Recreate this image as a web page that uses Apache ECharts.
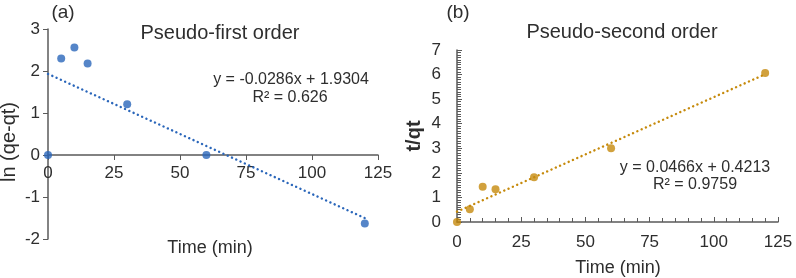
<!DOCTYPE html>
<html>
<head>
<meta charset="utf-8">
<script src="https://cdn.jsdelivr.net/npm/echarts@6/dist/echarts.min.js"></script>
<style>
  html, body { margin: 0; padding: 0; background: #fff; }
  #chart { width: 796px; height: 278px; }
</style>
</head>
<body>
<div id="chart"></div>
<script>
// (a) pseudo-first order: time vs ln(qe-qt)
const timeA = [0, 5, 10, 15, 30, 60, 120];
const lnA = [0, 2.3, 2.56, 2.18, 1.21, 0, -1.63];
const trendA = [[0, 1.9304], [120, -1.5016]];

// (b) pseudo-second order: time vs t/qt
const timeB = [0, 5, 10, 15, 30, 60, 120];
const tqB = [0, 0.52, 1.43, 1.33, 1.82, 3.0, 6.06];
const trendB = [[0, 0.4213], [120, 6.0133]];

const xTicks = [0, 125, 25];
const yTicksA = [-2, 3, 1];
const yTicksB = [0, 7, 1];

const blue = '#2A66BA';
const gold = '#C68A0C';
const axisCol = '#5a5a5a';
const txt = '#2e2e2e';
const font = 'Liberation Sans, Arial, sans-serif';

function pairs(xs, ys) {
  return xs.map((x, i) => [x, ys[i]]);
}

function label(text, x, y, size, opts) {
  opts = opts || {};
  return {
    type: 'text', x: x, y: y, rotation: opts.rot || 0,
    style: {
      text: text, fill: txt, fontFamily: font, fontSize: size,
      fontWeight: opts.bold ? 'bold' : 'normal',
      textAlign: 'center', textVerticalAlign: 'middle'
    }
  };
}

const chart = echarts.init(document.getElementById('chart'));
const axisLabel = { color: txt, fontFamily: font, fontSize: 17 };
// round dots: near-zero dash plus round caps
const dotted = { width: 2.4, type: [0.1, 4.6], cap: 'round' };

chart.setOption({
  animation: false,
  grid: [
    { left: 48, top: 29, width: 330, height: 210 },
    { left: 457, top: 50, width: 321, height: 172 },
    // upper part of (a), so its time axis sits on y = 0
    { left: 48, top: 29, width: 330, height: 126 }
  ],
  xAxis: [
    { gridIndex: 0, type: 'value', min: xTicks[0], max: xTicks[1], show: false },
    {
      gridIndex: 1, type: 'value', min: xTicks[0], max: xTicks[1], interval: xTicks[2],
      axisLine: { onZero: false, lineStyle: { color: axisCol, width: 1.5 } },
      axisTick: { show: true, inside: true, length: 5, lineStyle: { color: axisCol } },
      minorTick: { show: true, splitNumber: 5, length: 4, lineStyle: { color: axisCol } },
      splitLine: { show: false },
      axisLabel: Object.assign({ margin: 12 }, axisLabel)
    },
    {
      gridIndex: 2, type: 'value', min: xTicks[0], max: xTicks[1], interval: xTicks[2],
      axisLine: { onZero: false, lineStyle: { color: axisCol, width: 1.5 } },
      axisTick: { show: true, length: 5, lineStyle: { color: axisCol } },
      splitLine: { show: false },
      axisLabel: Object.assign({ margin: 10 }, axisLabel)
    }
  ],
  yAxis: [
    {
      gridIndex: 0, type: 'value', min: yTicksA[0], max: yTicksA[1], interval: yTicksA[2],
      axisLine: { show: true, onZero: false, lineStyle: { color: axisCol, width: 1.5 } },
      axisTick: { show: true, length: 5, lineStyle: { color: axisCol } },
      splitLine: { show: false },
      axisLabel: Object.assign({ margin: 8 }, axisLabel)
    },
    {
      gridIndex: 1, type: 'value', min: yTicksB[0], max: yTicksB[1], interval: yTicksB[2],
      axisLine: { show: true, onZero: false, lineStyle: { color: axisCol, width: 1.5 } },
      axisTick: { show: true, inside: true, length: 5, lineStyle: { color: axisCol } },
      minorTick: { show: true, splitNumber: 10, length: 4, lineStyle: { color: axisCol } },
      splitLine: { show: false },
      axisLabel: Object.assign({ margin: 16 }, axisLabel)
    },
    { gridIndex: 2, type: 'value', min: 0, max: 3, show: false }
  ],
  series: [
    {
      type: 'line', xAxisIndex: 0, yAxisIndex: 0, data: trendA,
      showSymbol: false, silent: true,
      lineStyle: Object.assign({ color: blue }, dotted)
    },
    {
      type: 'scatter', xAxisIndex: 0, yAxisIndex: 0, data: pairs(timeA, lnA),
      symbolSize: 8, clip: false, z: 5, itemStyle: { color: blue }
    },
    {
      type: 'line', xAxisIndex: 1, yAxisIndex: 1, data: trendB,
      showSymbol: false, silent: true,
      lineStyle: Object.assign({ color: gold }, dotted)
    },
    {
      type: 'scatter', xAxisIndex: 1, yAxisIndex: 1, data: pairs(timeB, tqB),
      symbolSize: 8, clip: false, z: 5, itemStyle: { color: gold }
    }
  ],
  graphic: [
    label('(a)', 63, 13, 19),
    label('Pseudo-first order', 220, 33, 20),
    label('y = -0.0286x + 1.9304', 291, 80, 16),
    label('R² = 0.626', 290, 98, 16),
    label('Time (min)', 210, 248, 18),
    label('ln (qe-qt)', 9, 142, 20, { rot: Math.PI / 2 }),
    label('(b)', 458, 13, 19),
    label('Pseudo-second order', 622, 32, 20),
    label('y = 0.0466x + 0.4213', 695, 168, 16),
    label('R² = 0.9759', 695, 185, 16),
    label('Time (min)', 618, 268, 18),
    label('t/qt', 414, 136, 20, { rot: Math.PI / 2, bold: true })
  ]
});
</script>
</body>
</html>
